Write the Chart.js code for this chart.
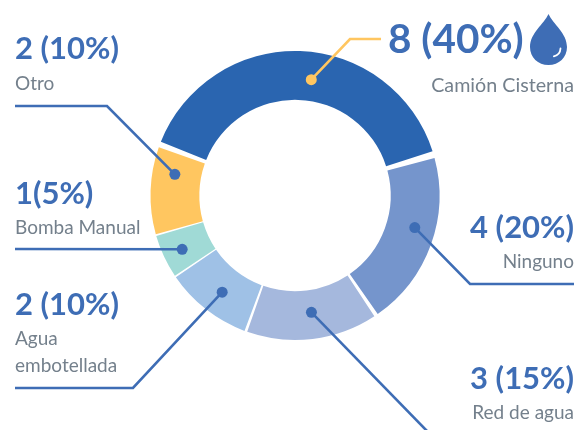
<!DOCTYPE html>
<html><head><meta charset="utf-8">
<style>html,body{margin:0;padding:0;background:#fff}canvas{display:block}</style>
<script src="https://cdn.jsdelivr.net/npm/chart.js@4"></script>
</head><body>
<canvas id="c" width="576" height="430"></canvas>
<script>
const categories = ['Camión Cisterna','Ninguno','Red de agua','Agua embotellada','Bomba Manual','Otro'];
const values = [8,4,3,2,1,2];
const sliceColors = ['#2A65B0','#7595CC','#A5B8DD','#9FC1E6','#A0DAD6','#FFC660'];
const valueLabels = ['8 (40%)','4 (20%)','3 (15%)','2 (10%)','1(5%)','2 (10%)'];
const nameLines = [['Camión Cisterna'],['Ninguno'],['Red de agua'],['Agua','embotellada'],['Bomba Manual'],['Otro']];
// layout of callouts
const valuePos = [[388,53,'left',40.5],[574,238,'right',31],[574,389,'right',31],[15,315,'left',31],[15,204,'left',31],[15,59,'left',31]];
const namePos = [[574,92,'right',19.7],[574,268,'right',19],[574,419,'right',19],[15,345,'left',19],[15,234,'left',19],[15,90,'left',19]];
const dotAngleOffset = [6,-5,-1,-1,-0.5,8];
const dotRadius = [117,124,118,121,125,122];
const leaderPaths = [[[350,39],[381,39]],[[470,284],[574,284]],[[428,432]],[[133,388],[15,388]],[[15,249]],[[107,106],[15,106]]];

const BLUE='#3E6DB5', YELLOW='#FFC660', GREY='#74808C';

const callouts = {
  id:'callouts',
  afterDatasetsDraw(chart){
    const ctx=chart.ctx, meta=chart.getDatasetMeta(0);
    ctx.save();
    meta.data.forEach((arc,i)=>{
      const p=arc.getProps(['x','y','startAngle','endAngle']);
      const a=(p.startAngle+p.endAngle)/2+dotAngleOffset[i]*Math.PI/180;
      const dx=p.x+Math.cos(a)*dotRadius[i], dy=p.y+Math.sin(a)*dotRadius[i];
      const col=i===0?YELLOW:BLUE;
      ctx.strokeStyle=col; ctx.fillStyle=col; ctx.lineWidth=2.6; ctx.lineJoin='miter';
      ctx.beginPath(); ctx.moveTo(dx,dy);
      leaderPaths[i].forEach(q=>ctx.lineTo(q[0],q[1]));
      ctx.stroke();
      ctx.beginPath(); ctx.arc(dx,dy,5.5,0,Math.PI*2); ctx.fill();
    });
    ctx.textBaseline='alphabetic';
    valueLabels.forEach((t,i)=>{
      const v=valuePos[i];
      ctx.font='bold '+v[3]+'px Lato'; ctx.textAlign=v[2]; ctx.fillStyle=BLUE;
      ctx.fillText(t,v[0],v[1]);
      const n=namePos[i];
      ctx.font=n[3]+'px Lato'; ctx.textAlign=n[2]; ctx.fillStyle=GREY;
      nameLines[i].forEach((l,k)=>ctx.fillText(l,n[0],n[1]+k*27));
    });
    // water drop icon
    ctx.fillStyle=BLUE;
    ctx.beginPath();
    ctx.moveTo(548.5,14);
    ctx.bezierCurveTo(544,24,530,33,530,47);
    ctx.bezierCurveTo(530,57.5,538,65,548.5,65);
    ctx.bezierCurveTo(559,65,567,57.5,567,47);
    ctx.bezierCurveTo(567,33,553,24,548.5,14);
    ctx.fill();
    ctx.strokeStyle='#fff'; ctx.lineWidth=1.8; ctx.lineCap='round';
    ctx.beginPath(); ctx.arc(552,48,8.5,0.05,1.35); ctx.stroke();
    ctx.restore();
  }
};

new Chart(document.getElementById('c'),{
  type:'doughnut',
  data:{labels:categories,datasets:[{data:values,backgroundColor:sliceColors,borderWidth:0,spacing:6}]},
  options:{
    responsive:false,animation:false,rotation:-70,cutout:'65.5%',
    layout:{padding:{left:150.5,right:136.5,top:51,bottom:90}},
    plugins:{legend:{display:false},tooltip:{enabled:false}}
  },
  plugins:[callouts]
});
</script>
</body></html>
